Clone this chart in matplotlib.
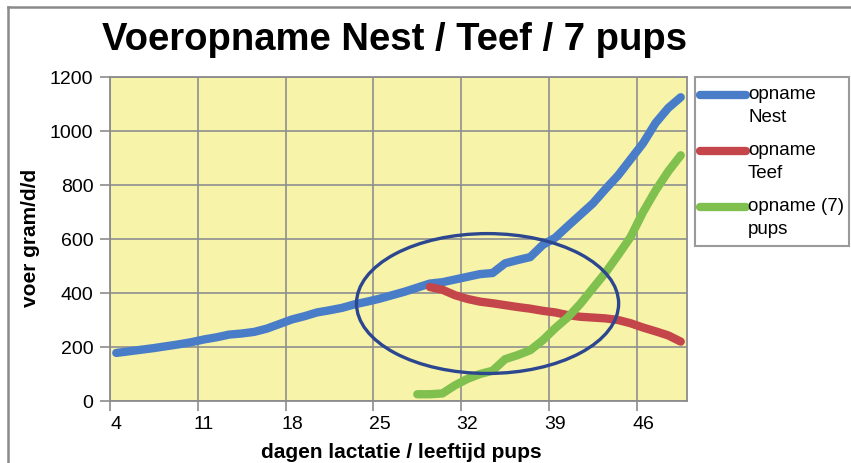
import matplotlib
matplotlib.use("Agg")
import matplotlib.pyplot as plt
from matplotlib.patches import Ellipse, Rectangle
from matplotlib.lines import Line2D

plt.rcParams['font.family'] = ['Liberation Sans', 'DejaVu Sans']

# ---------------- data ----------------
days_nest = list(range(4, 50))
nest = [178, 184, 190, 196, 203, 210, 218, 228, 236, 246,
        250, 256, 268, 285, 302, 314, 328, 336, 345, 358,
        368, 379, 392, 405, 420, 435, 440, 450, 460, 470,
        474, 510, 522, 533, 578, 605, 648, 690, 732, 785,
        835, 895, 955, 1030, 1085, 1125]

days_teef = list(range(29, 50))
teef = [422, 412, 392, 378, 368, 362, 355, 348, 342, 334,
        328, 318, 312, 309, 306, 300, 288, 272, 258, 243, 220]

days_pups = list(range(28, 50))
pups = [25, 25, 28, 58, 82, 100, 112, 155, 170, 188, 225,
        270, 310, 360, 418, 475, 540, 607, 700, 780, 850, 910]

series_labels = ["opname\nNest", "opname\nTeef", "opname (7)\npups"]
series_colors = ["#4A7DC8", "#C4464A", "#7FC04E"]
xtick_labels = [4, 11, 18, 25, 32, 39, 46]
ytick_values = [0, 200, 400, 600, 800, 1000, 1200]

title = "Voeropname Nest / Teef / 7 pups"
xlabel = "dagen lactatie / leeftijd pups"
ylabel = "voer gram/d/d"

# ---------------- figure ----------------
W, H = 851, 463
fig = plt.figure(figsize=(W / 100, H / 100), dpi=100)
fig.patch.set_facecolor("white")

def fx(px):
    return px / W

def fy(py):
    return 1 - py / H

ax = fig.add_axes([fx(110), fy(401), fx(687) - fx(110), fy(77) - fy(401)])
ax.set_facecolor("#F7F3A8")

lw = 6.0
for xs, ys, c in [(days_nest, nest, series_colors[0]),
                  (days_teef, teef, series_colors[1]),
                  (days_pups, pups, series_colors[2])]:
    ax.plot(xs, ys, color=c, lw=lw, solid_capstyle="round",
            solid_joinstyle="round", zorder=3)

# highlight ellipse
ax.add_patch(Ellipse((33.6, 361), 20.9, 518, fill=False,
                     edgecolor="#2C4790", lw=2.4, zorder=4))

ax.set_xlim(3.5, 49.5)
ax.set_ylim(0, 1200)

# gridlines / ticks at category boundaries, labels at category centers
ax.set_xticks([v - 0.5 for v in xtick_labels])
ax.set_xticklabels([])
ax.set_xticks(xtick_labels, minor=True)
ax.set_xticklabels([str(v) for v in xtick_labels], minor=True, fontsize=14)
ax.tick_params(axis="x", which="minor", length=0, pad=11)
ax.tick_params(axis="x", which="major", length=7, color="#8c8c8c", width=1.2)

ax.set_yticks(ytick_values)
ax.set_yticklabels([str(v) for v in ytick_values], fontsize=14)
ax.tick_params(axis="y", length=7, color="#8c8c8c", width=1.2, pad=5)

ax.grid(True, which="major", color="#8f8f8f", lw=1.2)
ax.set_axisbelow(True)
for s in ax.spines.values():
    s.set_color("#8c8c8c")
    s.set_linewidth(1.3)

# axis labels
fig.text(fx(30), fy(238), ylabel, rotation=90, ha="center", va="center",
         fontsize=15, fontweight="bold")
fig.text(fx(401), fy(452), xlabel, ha="center", va="center",
         fontsize=15, fontweight="bold")

# title
fig.text(fx(395), fy(40), title, ha="center", va="center",
         fontsize=27.5, fontweight="bold")

# legend (manual, Excel style)
fig.add_artist(Rectangle((fx(695), fy(246)), fx(849) - fx(695),
                         fy(77) - fy(246), transform=fig.transFigure,
                         facecolor="white", edgecolor="#9a9a9a", lw=1.5))
for i, (lab, c) in enumerate(zip(series_labels, series_colors)):
    y0 = 95 + i * 56
    fig.add_artist(Line2D([fx(700), fx(746)], [fy(y0), fy(y0)],
                          transform=fig.transFigure, color=c, lw=lw,
                          solid_capstyle="round"))
    fig.text(fx(748), fy(y0 - 9), lab, ha="left", va="top", fontsize=13.5,
             linespacing=1.45)

# outer frame (top and left edges)
fig.add_artist(Line2D([fx(7.5), fx(7.5)], [fy(7), 0],
                      transform=fig.transFigure, color="#8a8a8a", lw=1.8))
fig.add_artist(Line2D([fx(7.5), 1], [fy(7), fy(7)],
                      transform=fig.transFigure, color="#8a8a8a", lw=1.8))

fig.savefig("out.png", dpi=100)
